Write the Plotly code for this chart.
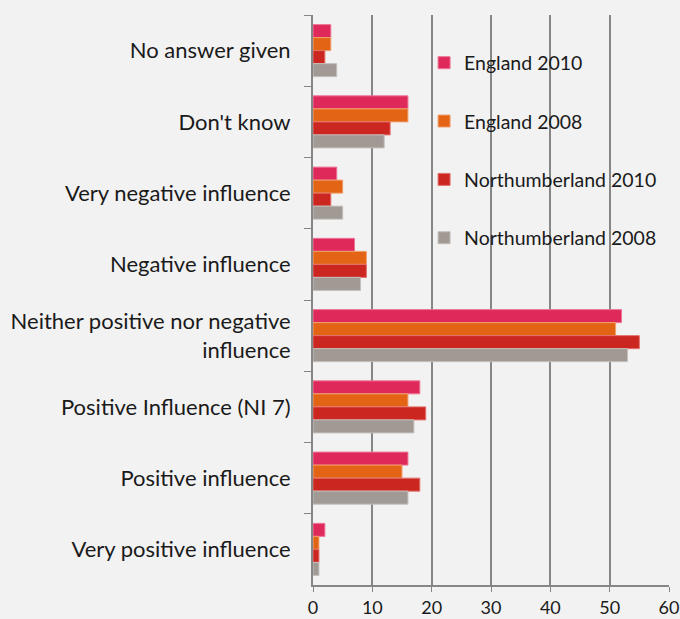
import plotly.graph_objects as go

categories = [
    "No answer given",
    "Don't know",
    "Very negative influence",
    "Negative influence",
    "Neither positive nor negative<br>influence",
    "Positive Influence (NI 7)",
    "Positive influence",
    "Very positive influence",
]

england_2010 = [3, 16, 4, 7, 52, 18, 16, 2]
england_2008 = [3, 16, 5, 9, 51, 16, 15, 1]
northumberland_2010 = [2, 13, 3, 9, 55, 19, 18, 1]
northumberland_2008 = [4, 12, 5, 8, 53, 17, 16, 1]

series = [
    ("England 2010", england_2010, "#E0295B", "#EE7396"),
    ("England 2008", england_2008, "#E36414", "#F0A070"),
    ("Northumberland 2010", northumberland_2010, "#CB2620", "#E2706B"),
    ("Northumberland 2008", northumberland_2008, "#A09994", "#C4BFBB"),
]

FONT = "Lato, 'Open Sans', sans-serif"

fig = go.Figure()
for name, vals, color, edge in series:
    fig.add_trace(go.Bar(
        y=categories, x=vals, name=name, orientation="h",
        marker=dict(color=color, line=dict(color=edge, width=1)),
        legendgroup=name,
    ))

fig.update_layout(
    width=680, height=619,
    margin=dict(l=313, r=11, t=15, b=34),
    paper_bgcolor="#F2F2F2", plot_bgcolor="#F2F2F2",
    barmode="group", bargap=0.27, bargroupgap=0,
    font=dict(family=FONT, color="#1a1a1a", size=22),
    legend=dict(
        x=0.312, y=0.95, xanchor="left", yanchor="top",
        bgcolor="rgba(0,0,0,0)", font=dict(size=19.5),
        traceorder="grouped", tracegroupgap=30,
        itemwidth=30,
    ),
    showlegend=True,
)

fig.update_xaxes(
    range=[0, 60], dtick=10, showgrid=True, gridcolor="#868686", gridwidth=2,
    showline=True, linecolor="#868686", linewidth=2,
    ticks="outside", ticklen=5, tickcolor="#868686",
    zeroline=False, tickfont=dict(size=18), fixedrange=True, automargin=False,
)
fig.update_yaxes(
    autorange="reversed", showline=True, linecolor="#868686", linewidth=2,
    ticks="outside", tickson="boundaries", ticklen=7, tickcolor="#868686",
    tickfont=dict(size=22), ticklabelstandoff=16, automargin=False,
)

fig.write_html(
    "out.html",
    config={"displayModeBar": False},
    post_script="document.body.style.margin='0';document.body.style.overflow='hidden';",
)
